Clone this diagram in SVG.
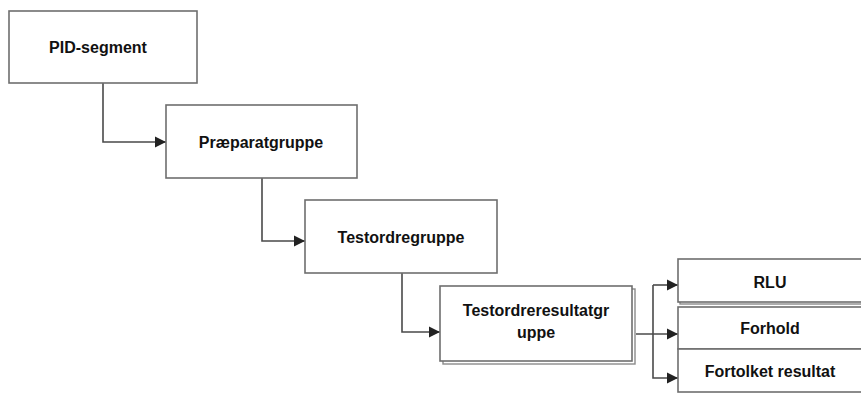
<svg xmlns="http://www.w3.org/2000/svg" width="861" height="393" viewBox="0 0 861 393">
  <defs>
    <style>
      .box { fill: #ffffff; stroke: #6e6e6e; stroke-width: 1.6; }
      .shadow { fill: #ffffff; stroke: #8a8a8a; stroke-width: 1.4; }
      .label { font-family: "Liberation Sans", Arial, sans-serif; font-weight: bold; font-size: 16px; fill: #111111; text-anchor: middle; }
      .conn { fill: none; stroke: #4a4a4a; stroke-width: 1.6; }
    </style>
    <marker id="arrow" viewBox="0 0 10 10" refX="10" refY="5" markerWidth="7" markerHeight="7" markerUnits="strokeWidth" orient="auto">
      <path d="M0,0 L10,5 L0,10 Z" fill="#222222"/>
    </marker>
  </defs>

  <rect width="861" height="393" fill="#ffffff"/>

  <!-- connectors -->
  <g id="connectors">
    <path class="conn" d="M103,83 V142 H166" marker-end="url(#arrow)"/>
    <path class="conn" d="M262,178 V241 H305" marker-end="url(#arrow)"/>
    <path class="conn" d="M402,273 V332 H440" marker-end="url(#arrow)"/>
    <path class="conn" d="M636,334 H678" marker-end="url(#arrow)"/>
    <path class="conn" d="M653,285 H678" marker-end="url(#arrow)"/>
    <path class="conn" d="M653,285 V378 H678" marker-end="url(#arrow)"/>
  </g>

  <g id="pid-segment">
    <rect class="box" x="9" y="11" width="188" height="72"/>
    <text class="label" x="98" y="53">PID-segment</text>
  </g>

  <g id="praeparatgruppe">
    <rect class="box" x="166" y="105" width="191" height="73"/>
    <text class="label" x="261" y="148">Præparatgruppe</text>
  </g>

  <g id="testordregruppe">
    <rect class="box" x="305" y="200" width="192" height="73"/>
    <text class="label" x="401" y="243">Testordregruppe</text>
  </g>

  <g id="testordreresultatgruppe">
    <rect class="shadow" x="443" y="289" width="192" height="75"/>
    <rect class="box" x="440" y="286" width="192" height="75"/>
    <text class="label" x="536" y="316">Testordreresultatgr</text>
    <text class="label" x="536" y="338">uppe</text>
  </g>

  <g id="rlu">
    <rect class="shadow" x="680" y="261" width="186" height="43"/>
    <rect class="box" x="678" y="259" width="186" height="43"/>
    <text class="label" x="770" y="288">RLU</text>
  </g>

  <g id="forhold">
    <rect class="box" x="678" y="307" width="186" height="42"/>
    <text class="label" x="770" y="334">Forhold</text>
  </g>

  <g id="fortolket-resultat">
    <rect class="box" x="678" y="349" width="186" height="43"/>
    <text class="label" x="770" y="377">Fortolket resultat</text>
  </g>
</svg>
